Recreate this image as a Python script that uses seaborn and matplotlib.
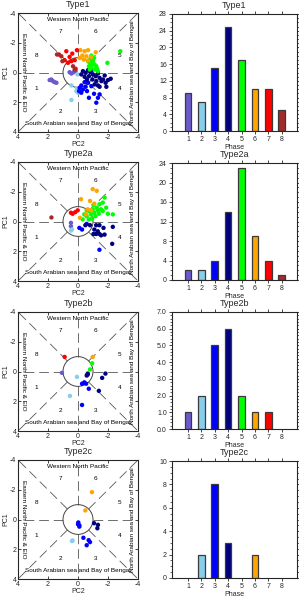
import numpy as np
import pandas as pd
import seaborn as sns
import matplotlib.pyplot as plt
from matplotlib.patches import Circle
from matplotlib.ticker import MultipleLocator

# ---- data ----
phases = [1, 2, 3, 4, 5, 6, 7, 8]
phase_colors = ["#6A5ACD", "#87CEEB", "#0000FF", "#000080",
                "#00FF00", "#FFA500", "#FF0000", "#A52A2A"]
type_names = ["Type1", "Type2a", "Type2b", "Type2c"]

type1_counts = [9, 7, 15, 25, 17, 10, 10, 5]
type2a_counts = [2, 2, 4, 14, 23, 9, 4, 1]
type2b_counts = [1, 2, 5, 6, 2, 1, 1, 0]
type2c_counts = [0, 2, 8, 3, 0, 2, 0, 0]

# (PC2, PC1, phase)
type1_pts = [
    (1.78, 0.47, 1), (1.67, 0.58, 1), (1.56, 0.65, 1), (1.44, 0.69, 1), (1.89, 0.51, 1),
    (0.56, -0.02, 1), (0.44, 0.07, 1), (0.29, -0.02, 1), (0.16, -0.11, 1),
    (0.44, 0.87, 2), (0.07, 1.09, 2), (0.11, 1.25, 2), (0.0, 1.36, 2), (0.44, 1.85, 2),
    (0.04, 0.13, 2), (-0.02, 1.18, 2),
    (-0.11, 1.03, 3), (-0.22, 0.87, 3), (-0.33, 1.14, 3), (-0.51, 0.96, 3), (-0.60, 1.25, 3),
    (-0.73, 1.70, 3), (-1.22, 2.03, 3), (-1.33, 1.70, 3), (-1.07, 1.43, 3), (-0.44, 0.65, 3),
    (-0.89, 0.92, 3), (-0.22, 1.36, 3), (-0.67, 0.69, 3), (-1.44, 1.47, 3), (-0.07, 1.25, 3),
    (-0.33, -0.09, 4), (-0.51, 0.02, 4), (-0.67, -0.16, 4), (-0.82, -0.02, 4), (-1.0, 0.13, 4),
    (-1.18, 0.25, 4), (-1.33, 0.07, 4), (-1.44, 0.36, 4), (-1.56, 0.58, 4), (-1.67, 0.47, 4),
    (-1.84, 0.69, 4), (-2.0, 0.51, 4), (-2.18, 0.42, 4), (-1.22, 0.58, 4), (-1.11, 0.80, 4),
    (-1.33, 0.87, 4), (-1.44, 0.96, 4), (-0.96, 0.47, 4), (-0.73, 0.25, 4), (-0.60, 0.47, 4),
    (-0.44, 0.29, 4), (-0.22, 0.13, 4), (-1.78, 0.20, 4), (-1.89, 0.96, 4), (-0.89, -0.16, 4),
    (-0.89, -1.14, 5), (-0.82, -0.92, 5), (-1.0, -0.76, 5), (-1.11, -0.54, 5), (-1.22, -0.42, 5),
    (-0.96, -0.54, 5), (-0.78, -0.65, 5), (-0.73, -0.42, 5), (-1.11, -0.20, 5), (-1.27, -0.25, 5),
    (-0.89, -0.31, 5), (-0.67, -0.76, 5), (-1.07, -0.98, 5), (-1.96, -0.65, 5), (-2.82, -1.43, 5),
    (-1.33, -0.09, 5), (-0.78, -0.20, 5),
    (-0.16, -1.50, 6), (-0.44, -1.43, 6), (-0.67, -1.50, 6), (-1.18, -1.36, 6), (-0.29, -1.14, 6),
    (-0.56, -1.09, 6), (-0.89, -1.05, 6), (-0.38, -0.87, 6), (-0.67, -0.80, 6), (-0.11, -0.98, 6),
    (1.27, -1.21, 7), (0.78, -1.43, 7), (0.07, -1.50, 7), (0.38, -1.27, 7), (0.56, -1.05, 7),
    (0.89, -0.83, 7), (0.67, -0.65, 7), (0.44, -0.76, 7), (0.22, -0.83, 7), (0.16, -0.25, 7),
    (1.40, -1.21, 8), (1.04, -0.76, 8), (0.22, -0.20, 8), (0.33, -0.42, 8), (1.11, -1.09, 8),
]

type2a_pts = [
    (0.47, 0.09, 1), (0.47, 0.32, 1),
    (0.47, 0.61, 2), (0.40, 0.54, 2),
    (-0.09, 0.43, 3), (-0.27, 0.54, 3), (-0.58, 0.16, 3), (-1.43, 1.90, 3),
    (-0.49, 0.25, 4), (-0.80, 0.25, 4), (-1.21, 0.25, 4), (-1.43, 0.25, 4), (-1.70, 0.43, 4),
    (-1.09, 0.54, 4), (-1.32, 0.66, 4), (-1.03, 0.84, 4), (-1.21, 0.84, 4), (-1.43, 0.84, 4),
    (-1.54, 0.93, 4), (-1.77, 0.88, 4), (-2.32, 0.36, 4), (-2.28, 1.50, 4),
    (-1.77, -1.61, 5), (-1.65, -1.27, 5), (-1.88, -0.93, 5), (-1.54, -0.82, 5), (-1.25, -0.93, 5),
    (-0.98, -0.82, 5), (-0.76, -0.70, 5), (-1.09, -0.59, 5), (-1.39, -0.52, 5), (-1.65, -0.70, 5),
    (-2.32, -0.48, 5), (-1.99, -0.52, 5), (-0.87, -0.48, 5), (-1.16, -0.36, 5), (-0.58, -0.36, 5),
    (-0.72, -0.14, 5), (-0.94, -0.20, 5), (-0.42, -0.48, 5), (-1.32, -0.75, 5), (-0.58, -0.75, 5),
    (-0.31, -0.14, 5), (-1.03, -1.11, 5), (-1.43, -1.16, 5),
    (-0.98, -2.18, 6), (-1.25, -2.06, 6), (-0.20, -1.50, 6), (-0.80, -1.38, 6), (-1.09, -1.20, 6),
    (-0.65, -0.82, 6), (-0.87, -0.75, 6), (-0.54, -0.48, 6), (-0.13, -0.25, 6),
    (0.47, -0.59, 7), (0.18, -0.63, 7), (0.02, -0.75, 7), (0.36, -0.52, 7),
    (1.77, -0.27, 8),
]

type2b_pts = [
    (1.07, 0.09, 1),
    (0.07, 0.36, 2), (0.54, 1.64, 2),
    (-0.42, 0.73, 3), (-0.54, 0.82, 3), (-0.27, 0.82, 3), (-0.72, 1.16, 3), (-0.27, 2.25, 3),
    (-0.65, 0.14, 4), (-0.58, 0.27, 4), (-1.61, 0.43, 4), (-1.83, 0.14, 4), (-1.39, 1.30, 4),
    (-0.65, 0.20, 4),
    (-0.94, -0.55, 5), (-0.80, -0.14, 5),
    (-0.98, -0.98, 6),
    (0.89, -0.98, 7),
]

type2c_pts = [
    (0.40, 1.45, 2), (0.36, 1.41, 2),
    (-0.02, 0.20, 3), (-0.09, 0.39, 3), (0.0, 0.32, 3), (-0.36, 1.23, 3), (-0.71, 1.39, 3),
    (-0.80, 1.52, 3), (-0.58, 1.73, 3), (-0.09, 0.48, 3),
    (-1.07, 0.25, 4), (-1.33, 0.36, 4), (-1.29, 0.59, 4),
    (-0.93, -1.84, 6), (-0.49, -0.61, 6),
]

bar_ylims = [(28, 4), (24, 4), (7, 1), (10, 2)]

# ---- style ----
sns.set_style("ticks")
plt.rcParams["font.family"] = ["Liberation Sans", "DejaVu Sans"]
plt.rcParams["axes.unicode_minus"] = False
plt.rcParams["lines.scale_dashes"] = False

W, H = 299, 598
fig = plt.figure(figsize=(W / 100, H / 100), dpi=100)


def rect(x, y, w, h):
    return [x / W, 1 - (y + h) / H, w / W, h / H]


pal = dict(zip(phases, phase_colors))
all_pts = [type1_pts, type2a_pts, type2b_pts, type2c_pts]
all_counts = [type1_counts, type2a_counts, type2b_counts, type2c_counts]
left_tops = [13, 162, 312, 460]
right_tops = [14, 163, 312, 461]

region_kw = dict(fontsize=4.6, ha="center", va="center", color="black")
num_pos = {7: (1.16, -2.73), 6: (-1.18, -2.73), 5: (-2.78, -1.14), 4: (-2.78, 1.09),
           3: (-1.18, 2.64), 2: (1.16, 2.64), 1: (2.78, 1.09), 8: (2.78, -1.14)}

for i, name in enumerate(type_names):
    # phase diagram
    ax = fig.add_axes(rect(18, left_tops[i], 120, 119))
    df = pd.DataFrame(all_pts[i], columns=["pc2", "pc1", "phase"])
    for k in range(8):
        a = np.deg2rad(45 * k)
        r = 4 * np.sqrt(2) if k % 2 else 4
        ax.plot([np.cos(a), r * np.cos(a)], [np.sin(a), r * np.sin(a)],
                color="#555555", lw=0.6, dashes=(7, 3.5), zorder=1)
    ax.add_patch(Circle((0, 0), 1, fill=False, ec="#444444", lw=0.7, zorder=1))
    sns.scatterplot(data=df, x="pc2", y="pc1", hue="phase", palette=pal, s=10,
                    linewidth=0, legend=False, ax=ax, zorder=3)
    ax.set_xlim(4, -4)
    ax.set_ylim(4, -4)
    ax.set_xticks([4, 2, 0, -2, -4])
    ax.set_yticks([-4, -2, 0, 2, 4])
    ax.tick_params(labelsize=5, length=2.5, width=0.6, pad=1.2,
                   top=True, right=True, direction="in")
    ax.set_xlabel("PC2", fontsize=5, labelpad=0.5)
    ax.set_ylabel("PC1", fontsize=5, labelpad=0.5)
    ax.set_title(name, fontsize=6.5, pad=4)
    for s in ax.spines.values():
        s.set_linewidth(0.8)
    ax.text(0, -3.55, "Western North Pacific", **region_kw)
    ax.text(0, 3.45, "South Arabian sea and Bay of Bengal", **region_kw)
    ax.text(3.62, 0, "Eastern North Pacific & EIO", rotation=-90, **region_kw)
    ax.text(-3.62, 0, "North Arabian sea and Bay of Bengal", rotation=90, **region_kw)
    for p, (px, py) in num_pos.items():
        ax.text(px, py, str(p), **region_kw)

    # phase histogram
    bx = fig.add_axes(rect(172, right_tops[i], 125, 117))
    bdf = pd.DataFrame({"phase": phases, "count": all_counts[i]})
    bdf = bdf[bdf["count"] > 0]
    sns.barplot(data=bdf, x="phase", y="count", hue="phase", palette=pal,
                native_scale=True, width=0.5, saturation=1, edgecolor="#3a3a3a",
                linewidth=0.9, legend=False, ax=bx)
    top, step = bar_ylims[i]
    bx.set_xlim(-0.2, 9.15)
    bx.set_ylim(0, top)
    bx.set_xticks(phases)
    bx.set_yticks(np.arange(0, top + 0.01, step))
    if name == "Type2b":
        bx.set_yticklabels([f"{v:.1f}" for v in np.arange(0, top + 0.01, step)])
    bx.yaxis.set_minor_locator(MultipleLocator(step / 4 if step > 1 else 0.2))
    bx.tick_params(which="major", labelsize=5, length=2.5, width=0.6, pad=1.2,
                   top=True, right=True, direction="out")
    bx.tick_params(which="minor", axis="y", length=1.3, width=0.5,
                   left=True, right=True, direction="out")
    bx.set_xlabel("Phase", fontsize=5, labelpad=0.3)
    bx.set_ylabel("")
    bx.set_title(name, fontsize=6.5, pad=4)
    for s in bx.spines.values():
        s.set_linewidth(0.8)

fig.savefig("out.png", dpi=100)
